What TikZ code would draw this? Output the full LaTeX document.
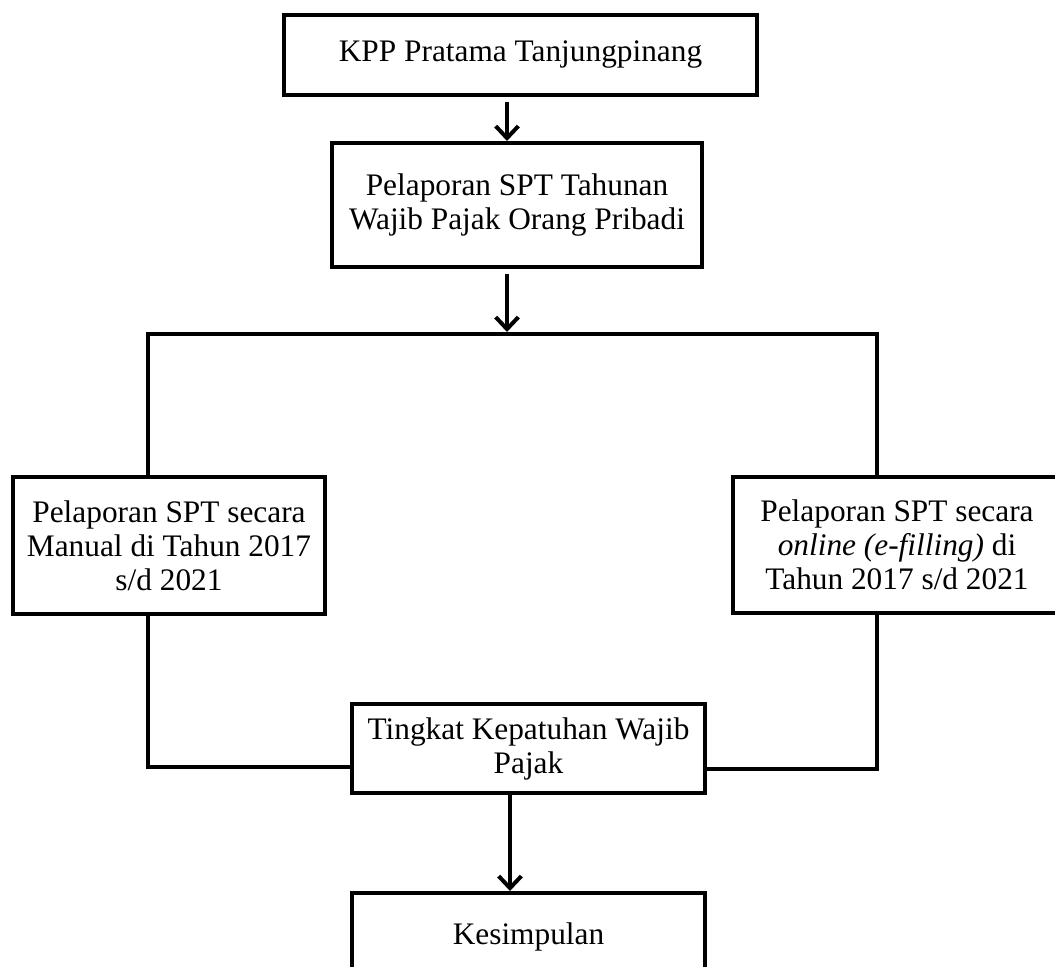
\documentclass[tikz,border=0pt]{standalone}
\usepackage{fontspec}
\setmainfont{Liberation Serif}
\usetikzlibrary{arrows.meta,shadows}
\begin{document}
\begin{tikzpicture}[x=0.75pt,y=-0.75pt,
  box/.style={draw, fill=white, line width=3pt, align=center, inner sep=0pt,
    font=\fontsize{23.5}{25.5}\selectfont,
    drop shadow={shadow xshift=1.2pt, shadow yshift=-1.2pt, opacity=0.25, fill=black}},
  conn/.style={line width=3pt, line cap=rect},
  arr/.style={line width=3pt, -{Straight Barb[length=9pt,width=17pt,line width=3pt]}}]
\useasboundingbox (0,0) rectangle (1055,966);
\clip (0,0) rectangle (1055,966);
\fill[white] (0,0) rectangle (1055,966);

\node[box, minimum width=354.75pt, minimum height=60pt] (kpp) at (520.5,55) {KPP Pratama Tanjungpinang};
\node[box, minimum width=277.5pt, minimum height=93pt] (spt) at (517,205) {Pelaporan SPT Tahunan\\Wajib Pajak Orang Pribadi};
\node[box, minimum width=234pt, minimum height=102.75pt] (manual) at (169,545.5) {Pelaporan SPT secara\\Manual di Tahun 2017\\s/d 2021};
\node[box, minimum width=246pt, minimum height=102pt] (online) at (897,545) {Pelaporan SPT secara\\\textit{online (e-filling)} di\\Tahun 2017 s/d 2021};
\node[box, minimum width=264.75pt, minimum height=66.75pt] (tingkat) at (528.5,748.5) {Tingkat Kepatuhan Wajib\\Pajak};
\node[box, minimum width=264.75pt, minimum height=65.25pt] (kes) at (528.5,936.5) {Kesimpulan};

\coordinate (ax) at (507,334);
\coordinate (lx) at (148,334);
\coordinate (rx) at (877,334);
\coordinate (jl) at (148,767);
\coordinate (jr) at (877,769);
\coordinate (bx) at (510,0);

\draw[arr, shorten <=4pt] (ax |- kpp.south) -- (ax |- spt.north);
\draw[arr, shorten <=4pt, shorten >=1.5pt] (ax |- spt.south) -- (ax);
\draw[conn] (lx |- manual.north) -- (lx) -- (rx) -- (rx |- online.north);
\draw[conn] (lx |- manual.south) -- (jl) -- (jl -| tingkat.west);
\draw[conn] (rx |- online.south) -- (jr) -- (jr -| tingkat.east);
\draw[arr] (bx |- tingkat.south) -- (bx |- kes.north);
\end{tikzpicture}
\end{document}
